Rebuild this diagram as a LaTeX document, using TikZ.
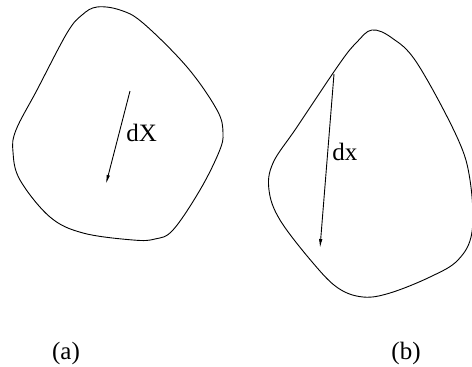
\documentclass[tikz,border=0pt]{standalone}
\usepackage{fontspec}
\setmainfont{Liberation Serif}
\usetikzlibrary{arrows.meta}
\begin{document}
\begin{tikzpicture}[x=1pt, y=-1pt, >={Latex[length=9pt,width=3.5pt]}, line width=0.9pt,
  lbl/.style={inner sep=0pt, font=\fontsize{25}{30}\selectfont}]
\useasboundingbox (0,0) rectangle (472,367);
% (a) undeformed body
\draw plot[smooth cycle, tension=0.6] coordinates {(97,7) (120,10) (143,23) (187,67) (217,110)
  (223,133) (219,152) (200,190) (173,230) (155,239) (133,240) (83,233) (50,217) (20,180)
  (13,152) (16,130) (37,90) (67,33) (82,15)};
\coordinate (dXs) at (130,91);
\coordinate (dXe) at (106,184);
\draw[->] (dXs) -- (dXe);
\node[lbl, anchor=base west] (dXl) at (126,141) {dX};
% (b) deformed body
\draw plot[smooth cycle, tension=0.6] coordinates {(372,30) (392,38) (417,63) (457,137)
  (470,180) (472,232) (458,260) (430,277) (390,293) (363,297) (338,288) (313,263) (280,220)
  (269,190) (273,163) (297,127) (340,63) (357,42)};
\coordinate (dxs) at (334,74);
\coordinate (dxe) at (320,248);
\draw[->] (dxs) -- (dxe);
\node[lbl, anchor=base west] (dxl) at (332,160) {dx};
% captions
\node[lbl, anchor=base] (capa) at (66,359) {(a)};
\node[lbl, anchor=base] (capb) at (406,359) {(b)};
\end{tikzpicture}
\end{document}
